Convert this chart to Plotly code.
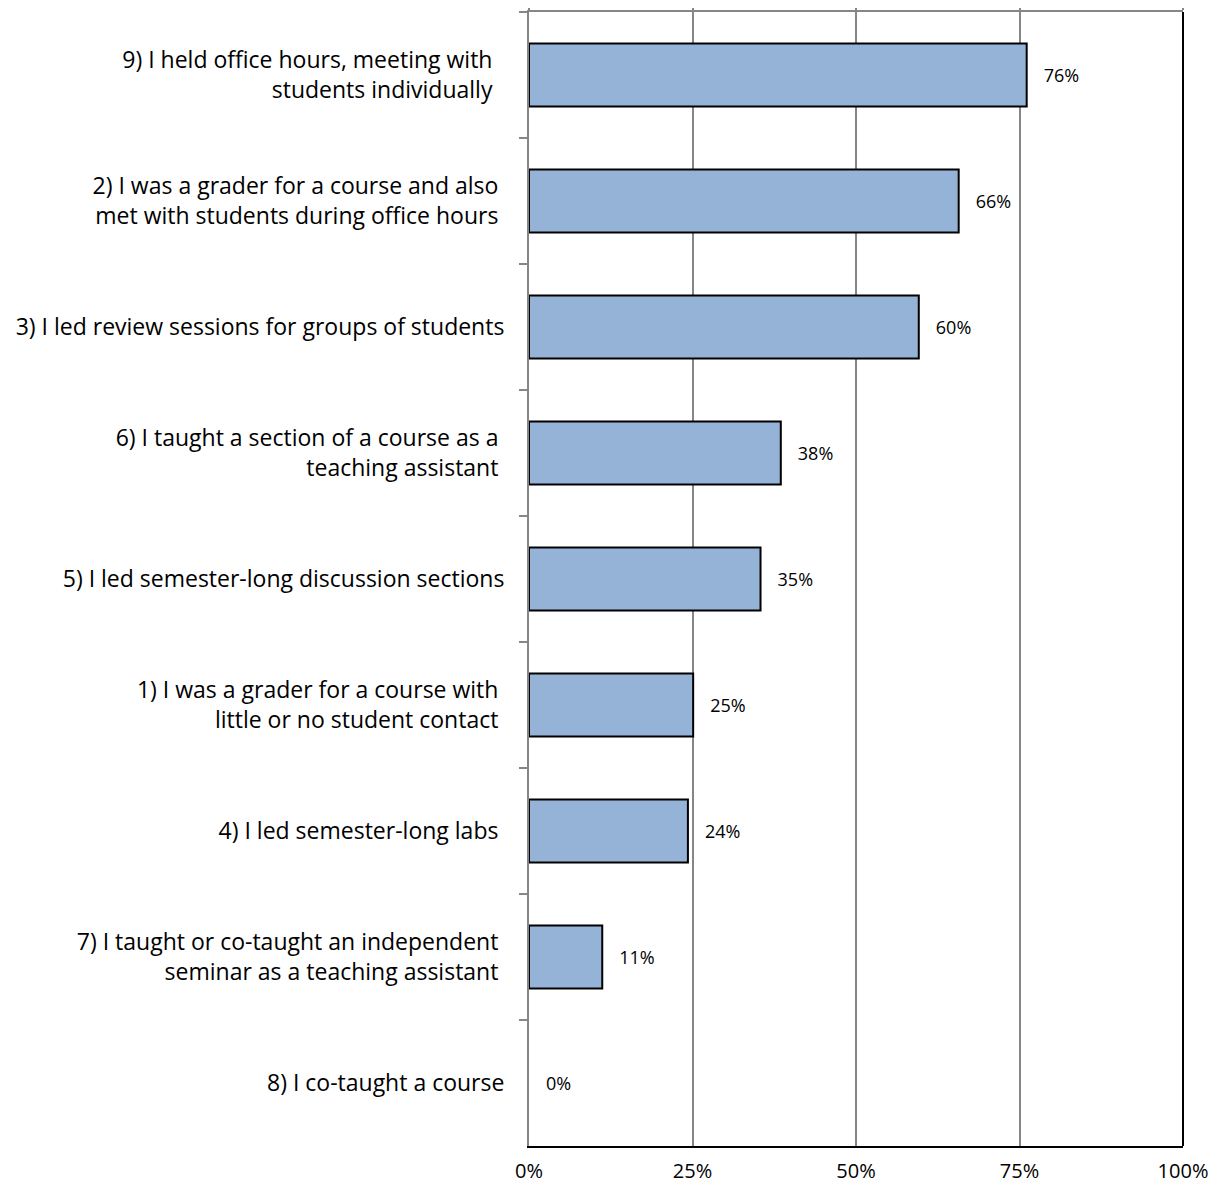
import plotly.graph_objects as go

categories = [
    "9) I held office hours, meeting with  <br>students individually  ",
    "2) I was a grader for a course and also <br>met with students during office hours ",
    "3) I led review sessions for groups of students",
    "6) I taught a section of a course as a <br>teaching assistant ",
    "5) I led semester-long discussion sections",
    "1) I was a grader for a course with <br>little or no student contact ",
    "4) I led semester-long labs ",
    "7) I taught or co-taught an independent <br>seminar as a teaching assistant ",
    "8) I co-taught a course",
]
values = [0.761, 0.657, 0.596, 0.385, 0.354, 0.251, 0.243, 0.112, 0.0]
x_ticks = [0, 0.25, 0.5, 0.75, 1.0]
x_tick_labels = ["0%", "25%", "50%", "75%", "100%"]

FONT = "Open Sans"

fig = go.Figure()
fig.add_trace(go.Bar(
    y=categories,
    x=values,
    orientation="h",
    marker=dict(color="#95B3D7",
                line=dict(color="#000000", width=[2 if v > 0 else 0 for v in values])),
    text=[f"{round(v*100):d}%" for v in values],
    texttemplate="   %{text}",
    textposition="outside",
    textfont=dict(family=FONT, size=18, color="#000000"),
    cliponaxis=False,
    width=0.5,
    showlegend=False,
))
# invisible trace on top axis to show top line with tick marks
fig.add_trace(go.Scatter(x=[0, 1], y=[categories[0], categories[0]], xaxis="x2",
                         mode="markers", marker=dict(opacity=0), showlegend=False,
                         hoverinfo="skip"))

fig.update_layout(
    width=1209, height=1181,
    margin=dict(l=521, r=34, t=4, b=43),
    paper_bgcolor="white", plot_bgcolor="white",
    font=dict(family=FONT, size=23, color="#000000"),
    xaxis=dict(
        range=[0, 1], tickvals=x_ticks, ticktext=x_tick_labels,
        showgrid=True, gridcolor="#868686", gridwidth=2,
        showline=True, linecolor="#000000", linewidth=2,
        ticks="", zeroline=False, automargin=False, ticklabelstandoff=6,
        tickfont=dict(family=FONT, size=20),
    ),
    xaxis2=dict(
        range=[0, 1], overlaying="x", side="top", tickvals=x_ticks,
        showticklabels=False, ticks="outside", ticklen=6, tickcolor="#868686",
        tickwidth=2, showline=True, linecolor="#868686", linewidth=2,
        showgrid=False, zeroline=False, automargin=False,
    ),
    yaxis=dict(
        type="category", categoryorder="array", categoryarray=categories,
        autorange="reversed",
        showline=True, linecolor="#868686", linewidth=2,
        ticks="outside", tickson="boundaries", ticklen=8, tickcolor="#868686",
        tickwidth=2, ticklabelstandoff=18, automargin=False,
        tickfont=dict(family=FONT, size=23),
        showgrid=False,
    ),
    shapes=[dict(type="line", xref="paper", yref="paper", x0=1, x1=1, y0=0, y1=1,
                 line=dict(color="#000000", width=2))],
    bargap=0.5,
)

fig.write_html("out.html")
